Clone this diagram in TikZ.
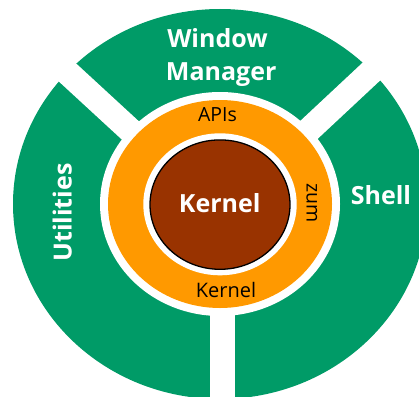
\documentclass[tikz,border=0pt]{standalone}
\usepackage{fontspec}
\setmainfont{Open Sans}
\definecolor{seggreen}{RGB}{0,155,103}
\definecolor{apiorange}{RGB}{255,153,0}
\definecolor{kernelbrown}{RGB}{153,51,0}
\begin{document}
\begin{tikzpicture}[x=1pt,y=-1pt,
  whitelabel/.style={text=white,font=\bfseries\fontsize{25}{25}\selectfont,inner sep=0pt},
  ringlabel/.style={text=black,font=\fontsize{19.5}{19.5}\selectfont,inner sep=0pt},
  gapbar/.style={white,line width=25pt}]
\useasboundingbox (0,0) rectangle (419,396);
\clip (0,0) rectangle (419,396);
% outer green ring
\fill[seggreen] (220,204) ellipse [x radius=207pt, y radius=195pt];
% gaps
\coordinate (gapc) at (220,213);
\coordinate (gapul) at (-0.8,9.6);
\coordinate (gapur) at (439.3,8.1);
\coordinate (gapbot) at (222.5,420);
\draw[gapbar] (gapc) -- (gapul);
\draw[gapbar] (gapc) -- (gapur);
\draw[gapbar] (222.5,204) -- (gapbot);
% white ring
\fill[white] (220,204) ellipse [x radius=120pt, y radius=112pt];
% orange ring
\fill[apiorange] (220,204) ellipse [x radius=112pt, y radius=104pt];
\fill[white] (220,204.3) ellipse [x radius=76.7pt, y radius=71pt];
\filldraw[fill=kernelbrown,draw=black,line width=1.3pt] (220,204.6) ellipse [x radius=70pt, y radius=64.7pt];
% labels
\node[whitelabel,anchor=base] (win) at (217.5,47.5) {Window};
\node[whitelabel,anchor=base] (man) at (221.2,80) {Manager};
\node[whitelabel,anchor=base] (shell) at (381,204) {Shell};
\node[whitelabel,anchor=base,rotate=90] (util) at (71.7,212.5) {Utilities};
\node[whitelabel,anchor=base] (kern) at (219.7,212.3) {Kernel};
\node[ringlabel,anchor=base] (apis) at (217.5,121) {APIs};
\node[ringlabel,anchor=base,rotate=-90] (zum) at (306.7,202.7) {zum};
\node[ringlabel,anchor=base,font=\fontsize{20}{20}\selectfont] (kern2) at (226,297.3) {Kernel};
\end{tikzpicture}
\end{document}
